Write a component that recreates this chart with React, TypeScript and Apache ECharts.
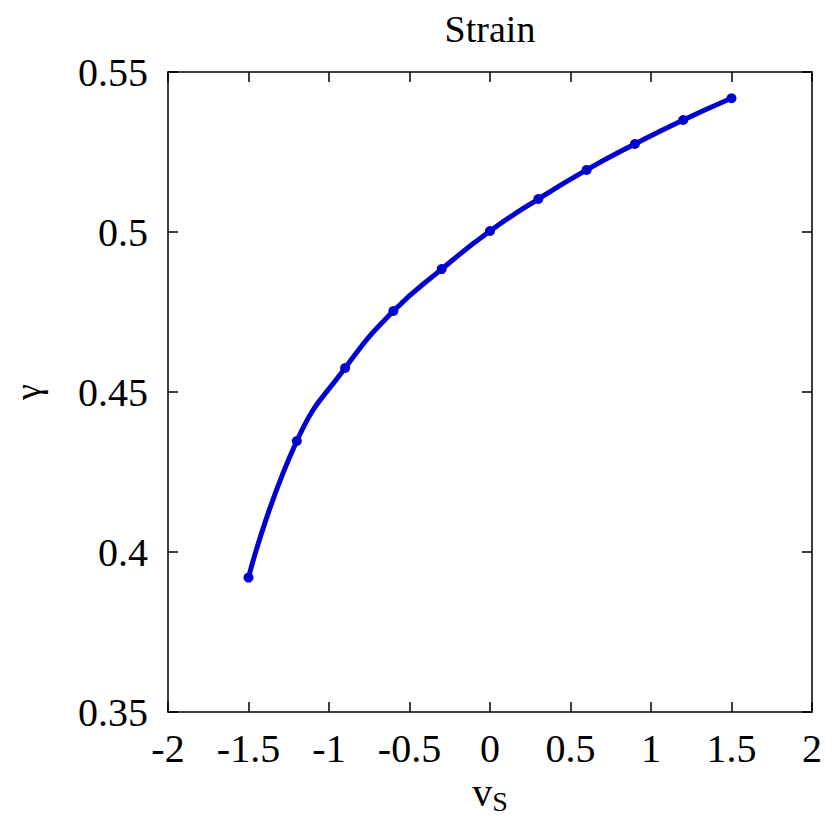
import React, { useEffect, useRef } from "react";
import * as echarts from "echarts";

const xValues = [-1.5, -1.2, -0.9, -0.6, -0.3, 0, 0.3, 0.6, 0.9, 1.2, 1.5];
const gammaValues = [0.392, 0.4347, 0.4575, 0.4753, 0.4884, 0.5003, 0.5103, 0.5194, 0.5275, 0.535, 0.5418];
const titleText = "Strain";

export default function App() {
  const ref = useRef<HTMLDivElement>(null);
  useEffect(() => {
    const chart = echarts.init(ref.current!, undefined, { renderer: "svg" });
    const font = "Liberation Serif";
    const axisCommon = {
      axisLine: { show: true, onZero: false, lineStyle: { color: "#000", width: 1.5 } },
      axisTick: { show: true, inside: true, length: 10, lineStyle: { color: "#000", width: 1.5 } },
      splitLine: { show: false },
    };
    chart.setOption({
      animation: false,
      backgroundColor: "#fff",
      title: {
        text: titleText,
        left: 482,
        textAlign: "center",
        top: 2,
        padding: 0,
        textStyle: { fontFamily: font, fontWeight: "normal", fontSize: 38, color: "#000" },
      },
      grid: { left: 160, right: 16, top: 64, bottom: 104, containLabel: false, outerBoundsMode: "none" },
      xAxis: [
        {
          type: "value",
          min: -2,
          max: 2,
          interval: 0.5,
          position: "bottom",
          ...axisCommon,
          axisLabel: { fontFamily: font, fontSize: 40, color: "#000", margin: 16 },
          name: "{v|v}{s|S}",
          nameLocation: "middle",
          nameGap: 54,
          nameTextStyle: {
            rich: {
              v: { fontFamily: font, fontSize: 40, color: "#000" },
              s: { fontFamily: font, fontSize: 28, color: "#000", padding: [18, 0, 0, 0] },
            },
          },
        },
        {
          type: "value",
          min: -2,
          max: 2,
          interval: 0.5,
          position: "top",
          ...axisCommon,
          axisLabel: { show: false },
        },
      ],
      yAxis: [
        {
          type: "value",
          min: 0.35,
          max: 0.55,
          interval: 0.05,
          position: "left",
          ...axisCommon,
          axisLabel: { fontFamily: font, fontSize: 40, color: "#000", margin: 20 },
          name: "γ",
          nameLocation: "middle",
          nameGap: 122,
          nameRotate: 90,
          nameTextStyle: { fontFamily: font, fontSize: 36, color: "#000" },
        },
        {
          type: "value",
          min: 0.35,
          max: 0.55,
          interval: 0.05,
          position: "right",
          ...axisCommon,
          axisLabel: { show: false },
        },
      ],
      series: [
        {
          type: "line",
          data: xValues.map((x, i) => [x, gammaValues[i]]),
          smooth: true,
          symbol: "circle",
          symbolSize: 10,
          showSymbol: true,
          lineStyle: { color: "#0000d0", width: 5 },
          itemStyle: { color: "#0000d0" },
        },
      ],
    });
    return () => chart.dispose();
  }, []);
  return <div ref={ref} style={{ width: 820, height: 808 }} />;
}
